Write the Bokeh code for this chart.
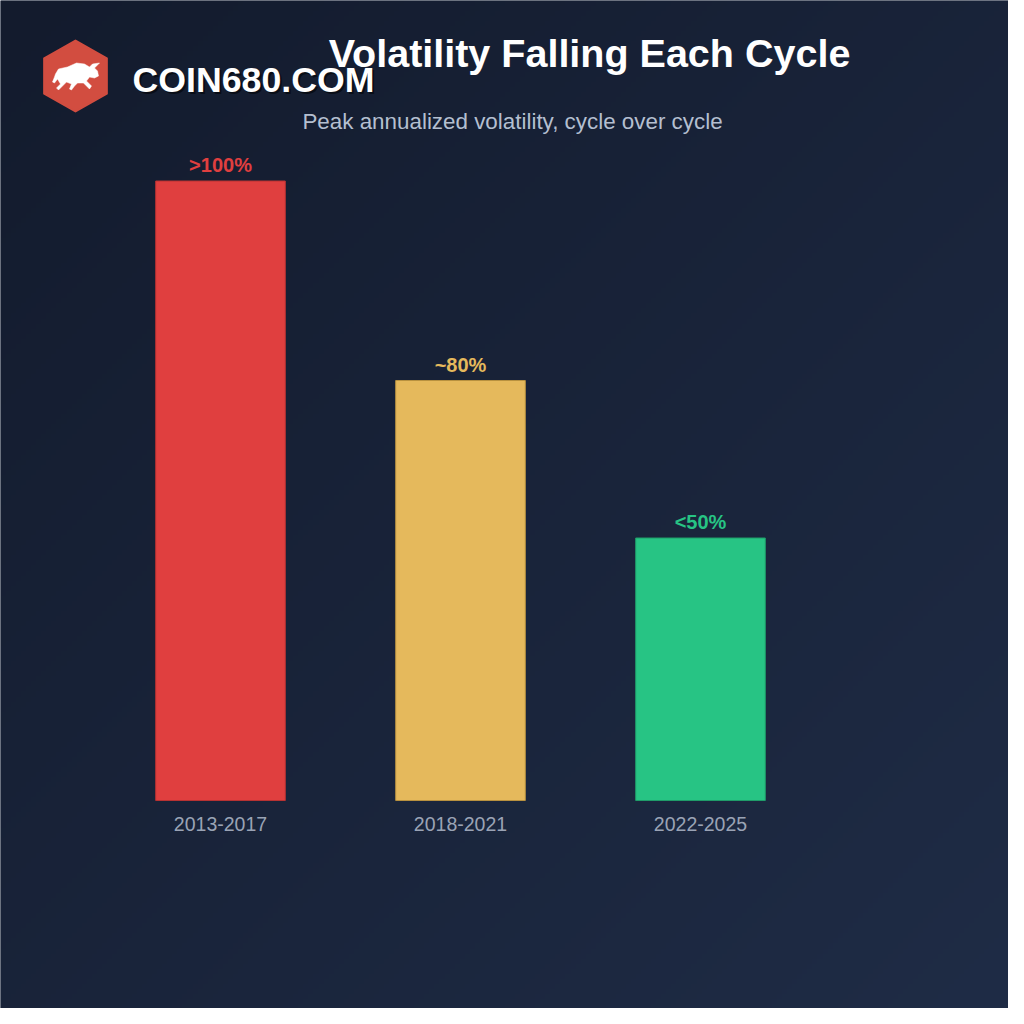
import numpy as np
from bokeh.plotting import figure
from bokeh.models import Range1d, ColumnDataSource
from bokeh.core.properties import value
from bokeh.embed import file_html
from bokeh.resources import INLINE

# ---- data ----
categories = ["2013-2017", "2018-2021", "2022-2025"]
volatility = [118, 80, 50]
value_labels = [">100%", "~80%", "<50%"]
bar_colors = ["#e03f3f", "#e5b95c", "#27c484"]
edge_colors = ["#b83232", "#b8913f", "#1f9c69"]

title_text = "Volatility Falling Each Cycle"
subtitle_text = "Peak annualized volatility, cycle over cycle"
brand_text = "COIN680.COM"

W, H = 1008, 1008
PX_X = 240.0     # pixels per category slot
PX_Y = 5.25      # pixels per volatility point
X0_PX = 100.0    # pixel of x = 0
Y0_PX = 800.0    # pixel of y = 0 (bar baseline)
BASE_FIX = 0.36  # svg text baseline compensation (em)

x_start = -X0_PX / PX_X
x_end = (W - X0_PX) / PX_X
y_end = Y0_PX / PX_Y
y_start = (Y0_PX - H) / PX_Y


def fx(px):
    return (px - X0_PX) / PX_X


def fy(px):
    return (Y0_PX - px) / PX_Y


def base_y(px, size):
    """data y for a text whose alphabetic baseline should sit at pixel px"""
    return fy(px - BASE_FIX * size)


p = figure(width=W, height=H, output_backend="svg", toolbar_location=None, tools="",
           x_range=Range1d(x_start, x_end), y_range=Range1d(y_start, y_end),
           min_border=0, min_border_left=0, min_border_right=0,
           min_border_top=0, min_border_bottom=0)
p.axis.visible = False
p.grid.visible = False
p.outline_line_color = None
p.background_fill_color = "#172238"
p.border_fill_color = "#172238"

# ---- gradient background ----
n = 200
u = np.linspace(0, 1, n)[None, :]
v = np.linspace(0, 1, n)[:, None]  # row 0 = bottom
t = (u + (1 - v)) / 2.0
c0 = np.array([19, 27, 45])
c1 = np.array([31, 44, 70])
img = np.empty((n, n), dtype=np.uint32)
view = img.view(dtype=np.uint8).reshape((n, n, 4))
for k in range(3):
    view[:, :, k] = (c0[k] + (c1[k] - c0[k]) * t).astype(np.uint8)
view[:, :, 3] = 255
p.image_rgba(image=[img], x=x_start, y=y_start, dw=x_end - x_start, dh=y_end - y_start)

# ---- bars ----
xpos = [i + 0.5 for i in range(len(categories))]
VAL_SIZE = 20
src = ColumnDataSource(dict(x=xpos, top=volatility, cat=categories, lab=value_labels,
                            color=bar_colors, edge=edge_colors,
                            ly=[vv + (8.5 + BASE_FIX * VAL_SIZE) / PX_Y for vv in volatility]))
p.vbar(x="x", top="top", bottom=0, width=0.54, source=src,
       fill_color="color", line_color="edge", line_width=1)

# value labels
p.text(x="x", y="ly", text="lab", source=src, text_color="color",
       text_font=value("Liberation Sans"), text_font_style="bold",
       text_font_size=value("%dpx" % VAL_SIZE), text_align="center",
       text_baseline="alphabetic")

# category labels
cat_y = [base_y(831, 19.5)] * len(categories)
p.text(x=xpos, y=cat_y, text=categories, text_color="#9aa3b5",
       text_font=value("Liberation Sans"), text_font_size=value("19.5px"),
       text_align="center", text_baseline="alphabetic")

# ---- titles ----
p.text(x=[fx(589)], y=[base_y(67, 39.5)], text=[title_text], text_color="#ffffff",
       text_font=value("Liberation Sans"), text_font_style="bold",
       text_font_size=value("39.5px"), text_align="center", text_baseline="alphabetic")
p.text(x=[fx(512)], y=[base_y(129, 22.4)], text=[subtitle_text], text_color="#b4bfd0",
       text_font=value("Liberation Sans"), text_font_size=value("22.4px"),
       text_align="center", text_baseline="alphabetic")

# ---- brand ----
p.text(x=[fx(134)], y=[base_y(94, 35.7)], text=[brand_text], text_color="#000000",
       text_alpha=0.55, text_font=value("Liberation Sans"), text_font_style="bold",
       text_font_size=value("35.7px"), text_align="left", text_baseline="alphabetic")
p.text(x=[fx(132)], y=[base_y(92, 35.7)], text=[brand_text], text_color="#ffffff",
       text_font=value("Liberation Sans"), text_font_style="bold",
       text_font_size=value("35.7px"), text_align="left", text_baseline="alphabetic")

# logo hexagon
cx, cy, r = 75.0, 75.5, 35.5
ang = np.deg2rad(90 + 60 * np.arange(6))
hx = [fx(cx + r * np.cos(a) * 1.02) for a in ang]
hy = [fy(cy - r * np.sin(a)) for a in ang]
p.patch(hx, hy, fill_color="#d24d40", line_color="#d24d40", line_width=2, line_join="round")

# bull silhouette (decorative)
bull = [(-20, -2), (-17, -7), (-8, -9), (1, -13), (9, -12), (14, -9),
        (17, -12), (24, -13), (19, -8), (22, -5), (23, 0), (19, 2), (14, 1),
        (11, 5), (16, 10), (14, 13), (8, 7), (2, 7), (-1, 10), (-4, 14),
        (-6, 13), (-4, 8), (-9, 6), (-13, 10), (-17, 14), (-19, 12), (-15, 8),
        (-18, 3), (-21, 7), (-23, 6), (-21, 1)]
bx = [fx(cx + a) for a, b in bull]
by = [fy(cy + b) for a, b in bull]
p.patch(bx, by, fill_color="#ffffff", line_color="#ffffff", line_width=0.5)

html = file_html(p, INLINE)
html = html.replace("<body>", '<body style="background:#141d30;">', 1)
open("out.html", "w").write(html)
